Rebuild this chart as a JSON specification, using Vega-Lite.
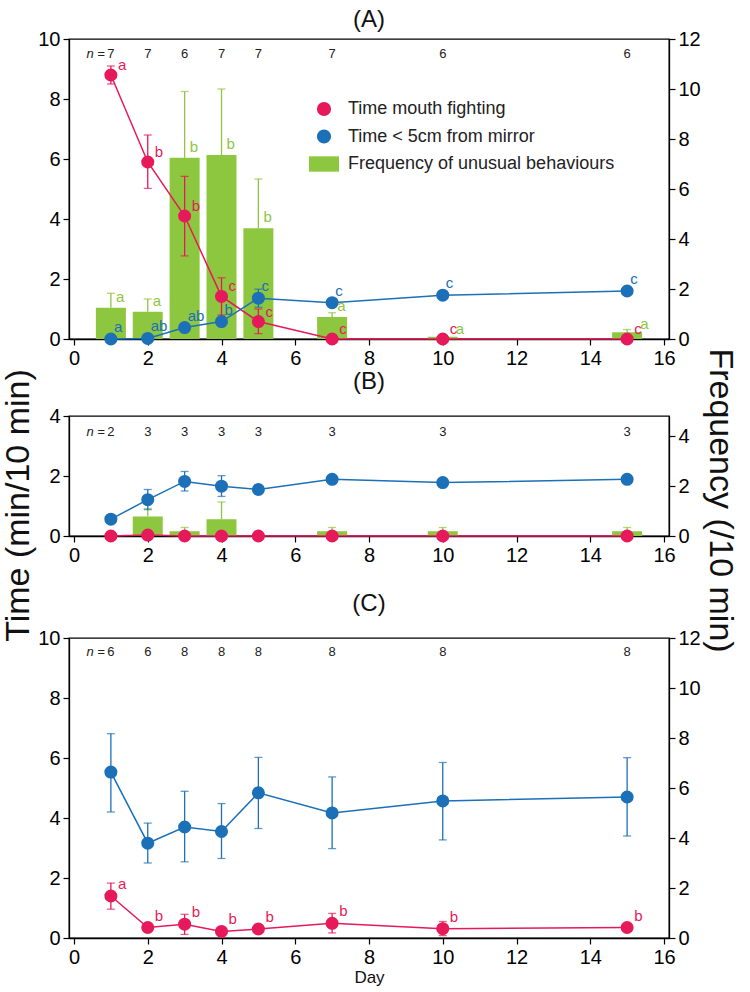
{
  "$schema": "https://vega.github.io/schema/vega-lite/v6.json",
  "padding": {"left": 0, "top": 7, "right": 0, "bottom": 2},
  "background": "white",
  "bounds": "flush",
  "spacing": 10,
  "config": {
    "font": "Liberation Sans",
    "view": {"stroke": "black", "strokeWidth": 1.3},
    "axis": {"grid": false, "domainColor": "black", "tickColor": "black", "labelColor": "black", "labelFontSize": 20, "labelFont": "Liberation Sans", "tickSize": 6, "domainWidth": 1.3, "tickWidth": 1.2, "labelPadding": 3, "labelFlush": false, "labelOverlap": false, "titleFont": "Liberation Sans", "titleFontWeight": "normal", "titleColor": "#111"},
    "title": {"fontSize": 24, "fontWeight": "normal", "font": "Liberation Sans", "color": "#111", "baseline": "alphabetic"}
  },
  "resolve": {"scale": {"color": "independent"}, "legend": {"color": "independent"}},
  "datasets": {
    "pts": [
      {"panel": "A", "day": 1, "series": "Time mouth fighting", "mean": 8.8, "lo": 8.5, "hi": 9.1, "letter": "a"},
      {"panel": "A", "day": 2, "series": "Time mouth fighting", "mean": 5.9, "lo": 5.02, "hi": 6.8, "letter": "b"},
      {"panel": "A", "day": 3, "series": "Time mouth fighting", "mean": 4.1, "lo": 2.77, "hi": 5.42, "letter": "b"},
      {"panel": "A", "day": 4, "series": "Time mouth fighting", "mean": 1.42, "lo": 0.8, "hi": 2.04, "letter": "c"},
      {"panel": "A", "day": 5, "series": "Time mouth fighting", "mean": 0.58, "lo": 0.18, "hi": 1.0, "letter": "c"},
      {"panel": "A", "day": 7, "series": "Time mouth fighting", "mean": 0, "lo": null, "hi": null, "letter": "c"},
      {"panel": "A", "day": 10, "series": "Time mouth fighting", "mean": 0, "lo": null, "hi": null, "letter": "c"},
      {"panel": "A", "day": 15, "series": "Time mouth fighting", "mean": 0, "lo": null, "hi": null, "letter": "c"},
      {"panel": "A", "day": 1, "series": "Time < 5cm from mirror", "mean": 0, "lo": null, "hi": null, "letter": "a"},
      {"panel": "A", "day": 2, "series": "Time < 5cm from mirror", "mean": 0.02, "lo": null, "hi": null, "letter": "ab"},
      {"panel": "A", "day": 3, "series": "Time < 5cm from mirror", "mean": 0.38, "lo": null, "hi": null, "letter": "ab"},
      {"panel": "A", "day": 4, "series": "Time < 5cm from mirror", "mean": 0.58, "lo": null, "hi": null, "letter": "b"},
      {"panel": "A", "day": 5, "series": "Time < 5cm from mirror", "mean": 1.36, "lo": 1.06, "hi": 1.66, "letter": "c"},
      {"panel": "A", "day": 7, "series": "Time < 5cm from mirror", "mean": 1.21, "lo": null, "hi": null, "letter": "c"},
      {"panel": "A", "day": 10, "series": "Time < 5cm from mirror", "mean": 1.46, "lo": null, "hi": null, "letter": "c"},
      {"panel": "A", "day": 15, "series": "Time < 5cm from mirror", "mean": 1.6, "lo": null, "hi": null, "letter": "c"},
      {"panel": "B", "day": 1, "series": "Time mouth fighting", "mean": 0, "lo": null, "hi": null, "letter": null},
      {"panel": "B", "day": 2, "series": "Time mouth fighting", "mean": 0.03, "lo": null, "hi": null, "letter": null},
      {"panel": "B", "day": 3, "series": "Time mouth fighting", "mean": 0, "lo": null, "hi": null, "letter": null},
      {"panel": "B", "day": 4, "series": "Time mouth fighting", "mean": 0, "lo": null, "hi": null, "letter": null},
      {"panel": "B", "day": 5, "series": "Time mouth fighting", "mean": 0, "lo": null, "hi": null, "letter": null},
      {"panel": "B", "day": 7, "series": "Time mouth fighting", "mean": 0, "lo": null, "hi": null, "letter": null},
      {"panel": "B", "day": 10, "series": "Time mouth fighting", "mean": 0, "lo": null, "hi": null, "letter": null},
      {"panel": "B", "day": 15, "series": "Time mouth fighting", "mean": 0, "lo": null, "hi": null, "letter": null},
      {"panel": "B", "day": 1, "series": "Time < 5cm from mirror", "mean": 0.56, "lo": null, "hi": null, "letter": null},
      {"panel": "B", "day": 2, "series": "Time < 5cm from mirror", "mean": 1.21, "lo": 0.88, "hi": 1.55, "letter": null},
      {"panel": "B", "day": 3, "series": "Time < 5cm from mirror", "mean": 1.82, "lo": 1.5, "hi": 2.15, "letter": null},
      {"panel": "B", "day": 4, "series": "Time < 5cm from mirror", "mean": 1.66, "lo": 1.32, "hi": 2.01, "letter": null},
      {"panel": "B", "day": 5, "series": "Time < 5cm from mirror", "mean": 1.55, "lo": 1.45, "hi": 1.65, "letter": null},
      {"panel": "B", "day": 7, "series": "Time < 5cm from mirror", "mean": 1.89, "lo": null, "hi": null, "letter": null},
      {"panel": "B", "day": 10, "series": "Time < 5cm from mirror", "mean": 1.78, "lo": null, "hi": null, "letter": null},
      {"panel": "B", "day": 15, "series": "Time < 5cm from mirror", "mean": 1.89, "lo": null, "hi": null, "letter": null},
      {"panel": "C", "day": 1, "series": "Time mouth fighting", "mean": 1.4, "lo": 0.96, "hi": 1.83, "letter": "a"},
      {"panel": "C", "day": 2, "series": "Time mouth fighting", "mean": 0.35, "lo": 0.25, "hi": 0.45, "letter": "b"},
      {"panel": "C", "day": 3, "series": "Time mouth fighting", "mean": 0.46, "lo": 0.12, "hi": 0.79, "letter": "b"},
      {"panel": "C", "day": 4, "series": "Time mouth fighting", "mean": 0.22, "lo": null, "hi": null, "letter": "b"},
      {"panel": "C", "day": 5, "series": "Time mouth fighting", "mean": 0.3, "lo": null, "hi": null, "letter": "b"},
      {"panel": "C", "day": 7, "series": "Time mouth fighting", "mean": 0.49, "lo": 0.17, "hi": 0.82, "letter": "b"},
      {"panel": "C", "day": 10, "series": "Time mouth fighting", "mean": 0.31, "lo": 0.08, "hi": 0.55, "letter": "b"},
      {"panel": "C", "day": 15, "series": "Time mouth fighting", "mean": 0.35, "lo": null, "hi": null, "letter": "b"},
      {"panel": "C", "day": 1, "series": "Time < 5cm from mirror", "mean": 5.53, "lo": 4.2, "hi": 6.81, "letter": null},
      {"panel": "C", "day": 2, "series": "Time < 5cm from mirror", "mean": 3.16, "lo": 2.5, "hi": 3.83, "letter": null},
      {"panel": "C", "day": 3, "series": "Time < 5cm from mirror", "mean": 3.7, "lo": 2.54, "hi": 4.89, "letter": null},
      {"panel": "C", "day": 4, "series": "Time < 5cm from mirror", "mean": 3.55, "lo": 2.65, "hi": 4.48, "letter": null},
      {"panel": "C", "day": 5, "series": "Time < 5cm from mirror", "mean": 4.84, "lo": 3.65, "hi": 6.02, "letter": null},
      {"panel": "C", "day": 7, "series": "Time < 5cm from mirror", "mean": 4.17, "lo": 2.98, "hi": 5.37, "letter": null},
      {"panel": "C", "day": 10, "series": "Time < 5cm from mirror", "mean": 4.57, "lo": 3.27, "hi": 5.85, "letter": null},
      {"panel": "C", "day": 15, "series": "Time < 5cm from mirror", "mean": 4.7, "lo": 3.4, "hi": 6.01, "letter": null}
    ],
    "bars": [
      {"panel": "A", "day": 1, "series": "Frequency of unusual behaviours", "freq": 1.25, "hi": 1.83, "letter": "a"},
      {"panel": "A", "day": 2, "series": "Frequency of unusual behaviours", "freq": 1.09, "hi": 1.6, "letter": "a"},
      {"panel": "A", "day": 3, "series": "Frequency of unusual behaviours", "freq": 7.25, "hi": 9.9, "letter": "b"},
      {"panel": "A", "day": 4, "series": "Frequency of unusual behaviours", "freq": 7.36, "hi": 10.0, "letter": "b"},
      {"panel": "A", "day": 5, "series": "Frequency of unusual behaviours", "freq": 4.43, "hi": 6.4, "letter": "b"},
      {"panel": "A", "day": 7, "series": "Frequency of unusual behaviours", "freq": 0.88, "hi": 1.05, "letter": "a"},
      {"panel": "A", "day": 10, "series": "Frequency of unusual behaviours", "freq": 0.09, "hi": null, "letter": "a"},
      {"panel": "A", "day": 15, "series": "Frequency of unusual behaviours", "freq": 0.27, "hi": 0.38, "letter": "a"},
      {"panel": "B", "day": 2, "series": "Frequency of unusual behaviours", "freq": 0.78, "hi": 1.1, "letter": null},
      {"panel": "B", "day": 3, "series": "Frequency of unusual behaviours", "freq": 0.19, "hi": 0.34, "letter": null},
      {"panel": "B", "day": 4, "series": "Frequency of unusual behaviours", "freq": 0.67, "hi": 1.36, "letter": null},
      {"panel": "B", "day": 7, "series": "Frequency of unusual behaviours", "freq": 0.19, "hi": 0.34, "letter": null},
      {"panel": "B", "day": 10, "series": "Frequency of unusual behaviours", "freq": 0.19, "hi": 0.34, "letter": null},
      {"panel": "B", "day": 15, "series": "Frequency of unusual behaviours", "freq": 0.19, "hi": 0.34, "letter": null}
    ],
    "nlab": [
      {"panel": "A", "day": 1, "n": "7"}, {"panel": "A", "day": 2, "n": "7"}, {"panel": "A", "day": 3, "n": "6"}, {"panel": "A", "day": 4, "n": "7"},
      {"panel": "A", "day": 5, "n": "7"}, {"panel": "A", "day": 7, "n": "7"}, {"panel": "A", "day": 10, "n": "6"}, {"panel": "A", "day": 15, "n": "6"},
      {"panel": "B", "day": 1, "n": "2"}, {"panel": "B", "day": 2, "n": "3"}, {"panel": "B", "day": 3, "n": "3"}, {"panel": "B", "day": 4, "n": "3"},
      {"panel": "B", "day": 5, "n": "3"}, {"panel": "B", "day": 7, "n": "3"}, {"panel": "B", "day": 10, "n": "3"}, {"panel": "B", "day": 15, "n": "3"},
      {"panel": "C", "day": 1, "n": "6"}, {"panel": "C", "day": 2, "n": "6"}, {"panel": "C", "day": 3, "n": "8"}, {"panel": "C", "day": 4, "n": "8"},
      {"panel": "C", "day": 5, "n": "8"}, {"panel": "C", "day": 7, "n": "8"}, {"panel": "C", "day": 10, "n": "8"}, {"panel": "C", "day": 15, "n": "8"}
    ]
  },
  "vconcat": [
    {
      "width": 600, "height": 300,
      "title": {"text": "(A)", "offset": -3},
      "resolve": {"scale": {"y": "independent"}},
      "encoding": {"x": {"field": "day", "type": "quantitative", "scale": {"domain": [0, 16], "nice": false, "zero": false}, "axis": {"values": [0, 2, 4, 6, 8, 10, 12, 14, 16], "title": null}}},
      "layer": [
        {
          "data": {"name": "bars"}, "transform": [{"filter": "datum.panel === 'A'"}],
          "layer": [
            {"mark": {"type": "bar", "size": 30}, "encoding": {"y": {"field": "freq", "type": "quantitative", "scale": {"domain": [0, 12], "nice": false}, "axis": {"orient": "right", "values": [0, 2, 4, 6, 8, 10, 12], "title": "Frequency (/10 min)", "titleFontSize": 34, "titleX": 33, "titleY": 461, "titleAngle": 90, "titleBaseline": "bottom", "titleAlign": "center"}},
              "color": {"field": "series", "type": "nominal", "scale": {"domain": ["Time mouth fighting", "Time < 5cm from mirror", "Frequency of unusual behaviours"], "range": ["#E6195A", "#1B70B7", "#8DC63F"]},
                "legend": {"title": null, "orient": "none", "legendX": 246, "legendY": 61, "direction": "vertical", "labelFontSize": 18, "labelFont": "Liberation Sans", "labelColor": "#222", "symbolSize": 729, "labelOffset": 15, "rowPadding": 9.5, "padding": 0, "symbolStrokeWidth": 0, "symbolOpacity": 1, "labelLimit": 400,
                  "encode": {"symbols": {"update": {
                    "shape": {"signal": "datum.value === 'Frequency of unusual behaviours' ? 'M-1.11,-0.57H1.11V0.57H-1.11Z' : 'circle'"},
                    "size": {"signal": "datum.value === 'Frequency of unusual behaviours' ? 729 : 200"},
                    "fill": {"signal": "datum.value === 'Time mouth fighting' ? '#E6195A' : datum.value === 'Time < 5cm from mirror' ? '#1B70B7' : '#8DC63F'"},
                    "strokeWidth": {"value": 0}, "opacity": {"value": 1}, "fillOpacity": {"value": 1}}}}}}}},
            {"transform": [{"filter": "datum.hi != null"}], "mark": {"type": "rule", "color": "#8DC63F", "strokeWidth": 1.3}, "encoding": {"y": {"field": "freq", "type": "quantitative", "axis": {"orient": "right", "values": [0, 2, 4, 6, 8, 10, 12], "title": "Frequency (/10 min)", "titleFontSize": 34, "titleX": 33, "titleY": 461, "titleAngle": 90, "titleBaseline": "bottom", "titleAlign": "center"}}, "y2": {"field": "hi"}}},
            {"transform": [{"filter": "datum.hi != null"}], "mark": {"type": "tick", "orient": "horizontal", "size": 8, "thickness": 1.3, "color": "#8DC63F"}, "encoding": {"y": {"field": "hi", "type": "quantitative", "axis": {"orient": "right", "values": [0, 2, 4, 6, 8, 10, 12], "title": "Frequency (/10 min)", "titleFontSize": 34, "titleX": 33, "titleY": 461, "titleAngle": 90, "titleBaseline": "bottom", "titleAlign": "center"}}}},
            {"transform": [{"filter": "datum.day < 10"}], "mark": {"type": "text", "color": "#8DC63F", "fontSize": 15, "align": "left", "baseline": "middle", "dx": 5, "dy": -11}, "encoding": {"y": {"field": "freq", "type": "quantitative", "axis": {"orient": "right", "values": [0, 2, 4, 6, 8, 10, 12], "title": "Frequency (/10 min)", "titleFontSize": 34, "titleX": 33, "titleY": 461, "titleAngle": 90, "titleBaseline": "bottom", "titleAlign": "center"}}, "text": {"field": "letter"}}},
            {"transform": [{"filter": "datum.day >= 10"}], "mark": {"type": "text", "color": "#8DC63F", "fontSize": 15, "align": "left", "baseline": "middle", "dx": 13, "dy": -8}, "encoding": {"y": {"field": "freq", "type": "quantitative", "axis": {"orient": "right", "values": [0, 2, 4, 6, 8, 10, 12], "title": "Frequency (/10 min)", "titleFontSize": 34, "titleX": 33, "titleY": 461, "titleAngle": 90, "titleBaseline": "bottom", "titleAlign": "center"}}, "text": {"field": "letter"}}}
          ]
        },
        {
          "data": {"name": "pts"}, "transform": [{"filter": "datum.panel === 'A'"}],
          "encoding": {"color": {"field": "series", "type": "nominal", "scale": {"domain": ["Time mouth fighting", "Time < 5cm from mirror", "Frequency of unusual behaviours"], "range": ["#E6195A", "#1B70B7", "#8DC63F"]},
                "legend": {"title": null, "orient": "none", "legendX": 246, "legendY": 61, "direction": "vertical", "labelFontSize": 18, "labelFont": "Liberation Sans", "labelColor": "#222", "symbolSize": 729, "labelOffset": 15, "rowPadding": 9.5, "padding": 0, "symbolStrokeWidth": 0, "symbolOpacity": 1, "labelLimit": 400,
                  "encode": {"symbols": {"update": {
                    "shape": {"signal": "datum.value === 'Frequency of unusual behaviours' ? 'M-1.11,-0.57H1.11V0.57H-1.11Z' : 'circle'"},
                    "size": {"signal": "datum.value === 'Frequency of unusual behaviours' ? 729 : 200"},
                    "fill": {"signal": "datum.value === 'Time mouth fighting' ? '#E6195A' : datum.value === 'Time < 5cm from mirror' ? '#1B70B7' : '#8DC63F'"},
                    "strokeWidth": {"value": 0}, "opacity": {"value": 1}, "fillOpacity": {"value": 1}}}}}}},
          "layer": [
            {"transform": [{"filter": "datum.hi != null"}], "mark": {"type": "rule", "strokeWidth": 1.3}, "encoding": {"y": {"field": "lo", "type": "quantitative", "scale": {"domain": [0, 10], "nice": false}, "axis": {"orient": "left", "values": [0, 2, 4, 6, 8, 10], "title": "Time (min/10 min)", "titleFontSize": 34, "titleX": -34, "titleY": 466, "titleAngle": -90, "titleBaseline": "bottom", "titleAlign": "center"}}, "y2": {"field": "hi"}}},
            {"transform": [{"filter": "datum.hi != null"}], "mark": {"type": "tick", "orient": "horizontal", "size": 8, "thickness": 1.3}, "encoding": {"y": {"field": "hi", "type": "quantitative", "axis": {"orient": "left", "values": [0, 2, 4, 6, 8, 10], "title": "Time (min/10 min)", "titleFontSize": 34, "titleX": -34, "titleY": 466, "titleAngle": -90, "titleBaseline": "bottom", "titleAlign": "center"}}}},
            {"transform": [{"filter": "datum.hi != null"}], "mark": {"type": "tick", "orient": "horizontal", "size": 8, "thickness": 1.3}, "encoding": {"y": {"field": "lo", "type": "quantitative", "axis": {"orient": "left", "values": [0, 2, 4, 6, 8, 10], "title": "Time (min/10 min)", "titleFontSize": 34, "titleX": -34, "titleY": 466, "titleAngle": -90, "titleBaseline": "bottom", "titleAlign": "center"}}}},
            {"mark": {"type": "line", "strokeWidth": 1.5}, "encoding": {"y": {"field": "mean", "type": "quantitative", "axis": {"orient": "left", "values": [0, 2, 4, 6, 8, 10], "title": "Time (min/10 min)", "titleFontSize": 34, "titleX": -34, "titleY": 466, "titleAngle": -90, "titleBaseline": "bottom", "titleAlign": "center"}}}},
            {"mark": {"type": "point", "filled": true, "size": 170, "opacity": 1}, "encoding": {"y": {"field": "mean", "type": "quantitative", "axis": {"orient": "left", "values": [0, 2, 4, 6, 8, 10], "title": "Time (min/10 min)", "titleFontSize": 34, "titleX": -34, "titleY": 466, "titleAngle": -90, "titleBaseline": "bottom", "titleAlign": "center"}}}},
            {"transform": [{"filter": "datum.series === 'Time mouth fighting'"}], "mark": {"type": "text", "fontSize": 15, "align": "left", "baseline": "middle", "dx": 7, "dy": -10}, "encoding": {"y": {"field": "mean", "type": "quantitative", "axis": {"orient": "left", "values": [0, 2, 4, 6, 8, 10], "title": "Time (min/10 min)", "titleFontSize": 34, "titleX": -34, "titleY": 466, "titleAngle": -90, "titleBaseline": "bottom", "titleAlign": "center"}}, "text": {"field": "letter"}}},
            {"transform": [{"filter": "datum.series === 'Time < 5cm from mirror'"}], "mark": {"type": "text", "fontSize": 15, "align": "left", "baseline": "middle", "dx": 3, "dy": -12}, "encoding": {"y": {"field": "mean", "type": "quantitative", "axis": {"orient": "left", "values": [0, 2, 4, 6, 8, 10], "title": "Time (min/10 min)", "titleFontSize": 34, "titleX": -34, "titleY": 466, "titleAngle": -90, "titleBaseline": "bottom", "titleAlign": "center"}}, "text": {"field": "letter"}}},
            {"data": {"name": "nlab"}, "transform": [{"filter": "datum.panel === 'A'"}], "mark": {"type": "text", "fontSize": 13, "baseline": "middle"}, "encoding": {"y": {"datum": 9.5, "type": "quantitative", "axis": {"orient": "left", "values": [0, 2, 4, 6, 8, 10], "title": "Time (min/10 min)", "titleFontSize": 34, "titleX": -34, "titleY": 466, "titleAngle": -90, "titleBaseline": "bottom", "titleAlign": "center"}}, "text": {"field": "n"}, "color": {"value": "#222"}}},
            {"data": {"name": "nlab"}, "transform": [{"filter": "datum.panel === 'A' && datum.day === 1"}], "mark": {"type": "text", "fontSize": 13, "fontStyle": "italic", "align": "right", "baseline": "middle", "dx": -6}, "encoding": {"y": {"datum": 9.5, "type": "quantitative", "axis": {"orient": "left", "values": [0, 2, 4, 6, 8, 10], "title": "Time (min/10 min)", "titleFontSize": 34, "titleX": -34, "titleY": 466, "titleAngle": -90, "titleBaseline": "bottom", "titleAlign": "center"}}, "text": {"value": "n ="}, "color": {"value": "#222"}}}
          ]
        }
      ]
    },
    {"width": 600, "height": 57, "data": {"values": []}, "mark": "point", "encoding": {}, "view": {"stroke": null}},
    {
      "width": 600, "height": 120,
      "title": {"text": "(B)", "offset": 12},
      "resolve": {"scale": {"y": "independent"}},
      "encoding": {"x": {"field": "day", "type": "quantitative", "scale": {"domain": [0, 16], "nice": false, "zero": false}, "axis": {"values": [0, 2, 4, 6, 8, 10, 12, 14, 16], "title": null}}},
      "layer": [
        {
          "data": {"name": "bars"}, "transform": [{"filter": "datum.panel === 'B'"}],
          "layer": [
            {"mark": {"type": "bar", "size": 30, "color": "#8DC63F"}, "encoding": {"y": {"field": "freq", "type": "quantitative", "scale": {"domain": [0, 4.8], "nice": false}, "axis": {"orient": "right", "values": [0, 2, 4], "title": null}}}},
            {"mark": {"type": "rule", "color": "#8DC63F", "strokeWidth": 1.3}, "encoding": {"y": {"field": "freq", "type": "quantitative", "axis": {"orient": "right", "values": [0, 2, 4], "title": null}}, "y2": {"field": "hi"}}},
            {"mark": {"type": "tick", "orient": "horizontal", "size": 8, "thickness": 1.3, "color": "#8DC63F"}, "encoding": {"y": {"field": "hi", "type": "quantitative", "axis": {"orient": "right", "values": [0, 2, 4], "title": null}}}}
          ]
        },
        {
          "data": {"name": "pts"}, "transform": [{"filter": "datum.panel === 'B'"}],
          "encoding": {"color": {"field": "series", "type": "nominal", "scale": {"domain": ["Time mouth fighting", "Time < 5cm from mirror", "Frequency of unusual behaviours"], "range": ["#E6195A", "#1B70B7", "#8DC63F"]}, "legend": null}},
          "layer": [
            {"transform": [{"filter": "datum.hi != null"}], "mark": {"type": "rule", "strokeWidth": 1.3}, "encoding": {"y": {"field": "lo", "type": "quantitative", "scale": {"domain": [0, 4], "nice": false}, "axis": {"orient": "left", "values": [0, 2, 4], "title": null}}, "y2": {"field": "hi"}}},
            {"transform": [{"filter": "datum.hi != null"}], "mark": {"type": "tick", "orient": "horizontal", "size": 8, "thickness": 1.3}, "encoding": {"y": {"field": "hi", "type": "quantitative", "axis": {"orient": "left", "values": [0, 2, 4], "title": null}}}},
            {"transform": [{"filter": "datum.hi != null"}], "mark": {"type": "tick", "orient": "horizontal", "size": 8, "thickness": 1.3}, "encoding": {"y": {"field": "lo", "type": "quantitative", "axis": {"orient": "left", "values": [0, 2, 4], "title": null}}}},
            {"mark": {"type": "line", "strokeWidth": 1.5}, "encoding": {"y": {"field": "mean", "type": "quantitative", "axis": {"orient": "left", "values": [0, 2, 4], "title": null}}}},
            {"mark": {"type": "point", "filled": true, "size": 170, "opacity": 1}, "encoding": {"y": {"field": "mean", "type": "quantitative", "axis": {"orient": "left", "values": [0, 2, 4], "title": null}}}},
            {"data": {"name": "nlab"}, "transform": [{"filter": "datum.panel === 'B'"}], "mark": {"type": "text", "fontSize": 13, "baseline": "middle"}, "encoding": {"y": {"datum": 3.47, "type": "quantitative", "axis": {"orient": "left", "values": [0, 2, 4], "title": null}}, "text": {"field": "n"}, "color": {"value": "#222"}}},
            {"data": {"name": "nlab"}, "transform": [{"filter": "datum.panel === 'B' && datum.day === 1"}], "mark": {"type": "text", "fontSize": 13, "fontStyle": "italic", "align": "right", "baseline": "middle", "dx": -6}, "encoding": {"y": {"datum": 3.47, "type": "quantitative", "axis": {"orient": "left", "values": [0, 2, 4], "title": null}}, "text": {"value": "n ="}, "color": {"value": "#222"}}}
          ]
        }
      ]
    },
    {"width": 600, "height": 82, "data": {"values": []}, "mark": "point", "encoding": {}, "view": {"stroke": null}},
    {
      "width": 600, "height": 300,
      "title": {"text": "(C)", "offset": 12},
      "resolve": {"scale": {"y": "independent"}},
      "encoding": {"x": {"field": "day", "type": "quantitative", "scale": {"domain": [0, 16], "nice": false, "zero": false}, "axis": {"values": [0, 2, 4, 6, 8, 10, 12, 14, 16], "title": "Day", "titleFontSize": 17, "titlePadding": 2}}},
      "layer": [
        {
          "data": {"name": "bars"}, "transform": [{"filter": "datum.panel === 'C'"}],
          "layer": [
            {"mark": {"type": "bar", "size": 30, "color": "#8DC63F"}, "encoding": {"y": {"field": "freq", "type": "quantitative", "scale": {"domain": [0, 12], "nice": false}, "axis": {"orient": "right", "values": [0, 2, 4, 6, 8, 10, 12], "title": null}}}}
          ]
        },
        {
          "data": {"name": "pts"}, "transform": [{"filter": "datum.panel === 'C'"}],
          "encoding": {"color": {"field": "series", "type": "nominal", "scale": {"domain": ["Time mouth fighting", "Time < 5cm from mirror", "Frequency of unusual behaviours"], "range": ["#E6195A", "#1B70B7", "#8DC63F"]}, "legend": null}},
          "layer": [
            {"transform": [{"filter": "datum.hi != null"}], "mark": {"type": "rule", "strokeWidth": 1.3}, "encoding": {"y": {"field": "lo", "type": "quantitative", "scale": {"domain": [0, 10], "nice": false}, "axis": {"orient": "left", "values": [0, 2, 4, 6, 8, 10], "title": null}}, "y2": {"field": "hi"}}},
            {"transform": [{"filter": "datum.hi != null"}], "mark": {"type": "tick", "orient": "horizontal", "size": 8, "thickness": 1.3}, "encoding": {"y": {"field": "hi", "type": "quantitative", "axis": {"orient": "left", "values": [0, 2, 4, 6, 8, 10], "title": null}}}},
            {"transform": [{"filter": "datum.hi != null"}], "mark": {"type": "tick", "orient": "horizontal", "size": 8, "thickness": 1.3}, "encoding": {"y": {"field": "lo", "type": "quantitative", "axis": {"orient": "left", "values": [0, 2, 4, 6, 8, 10], "title": null}}}},
            {"mark": {"type": "line", "strokeWidth": 1.5}, "encoding": {"y": {"field": "mean", "type": "quantitative", "axis": {"orient": "left", "values": [0, 2, 4, 6, 8, 10], "title": null}}}},
            {"mark": {"type": "point", "filled": true, "size": 170, "opacity": 1}, "encoding": {"y": {"field": "mean", "type": "quantitative", "axis": {"orient": "left", "values": [0, 2, 4, 6, 8, 10], "title": null}}}},
            {"transform": [{"filter": "datum.letter != null"}], "mark": {"type": "text", "fontSize": 15, "align": "left", "baseline": "middle", "dx": 7, "dy": -12}, "encoding": {"y": {"field": "mean", "type": "quantitative", "axis": {"orient": "left", "values": [0, 2, 4, 6, 8, 10], "title": null}}, "text": {"field": "letter"}}},
            {"data": {"name": "nlab"}, "transform": [{"filter": "datum.panel === 'C'"}], "mark": {"type": "text", "fontSize": 13, "baseline": "middle"}, "encoding": {"y": {"datum": 9.54, "type": "quantitative", "axis": {"orient": "left", "values": [0, 2, 4, 6, 8, 10], "title": null}}, "text": {"field": "n"}, "color": {"value": "#222"}}},
            {"data": {"name": "nlab"}, "transform": [{"filter": "datum.panel === 'C' && datum.day === 1"}], "mark": {"type": "text", "fontSize": 13, "fontStyle": "italic", "align": "right", "baseline": "middle", "dx": -6}, "encoding": {"y": {"datum": 9.54, "type": "quantitative", "axis": {"orient": "left", "values": [0, 2, 4, 6, 8, 10], "title": null}}, "text": {"value": "n ="}, "color": {"value": "#222"}}}
          ]
        }
      ]
    }
  ]
}
